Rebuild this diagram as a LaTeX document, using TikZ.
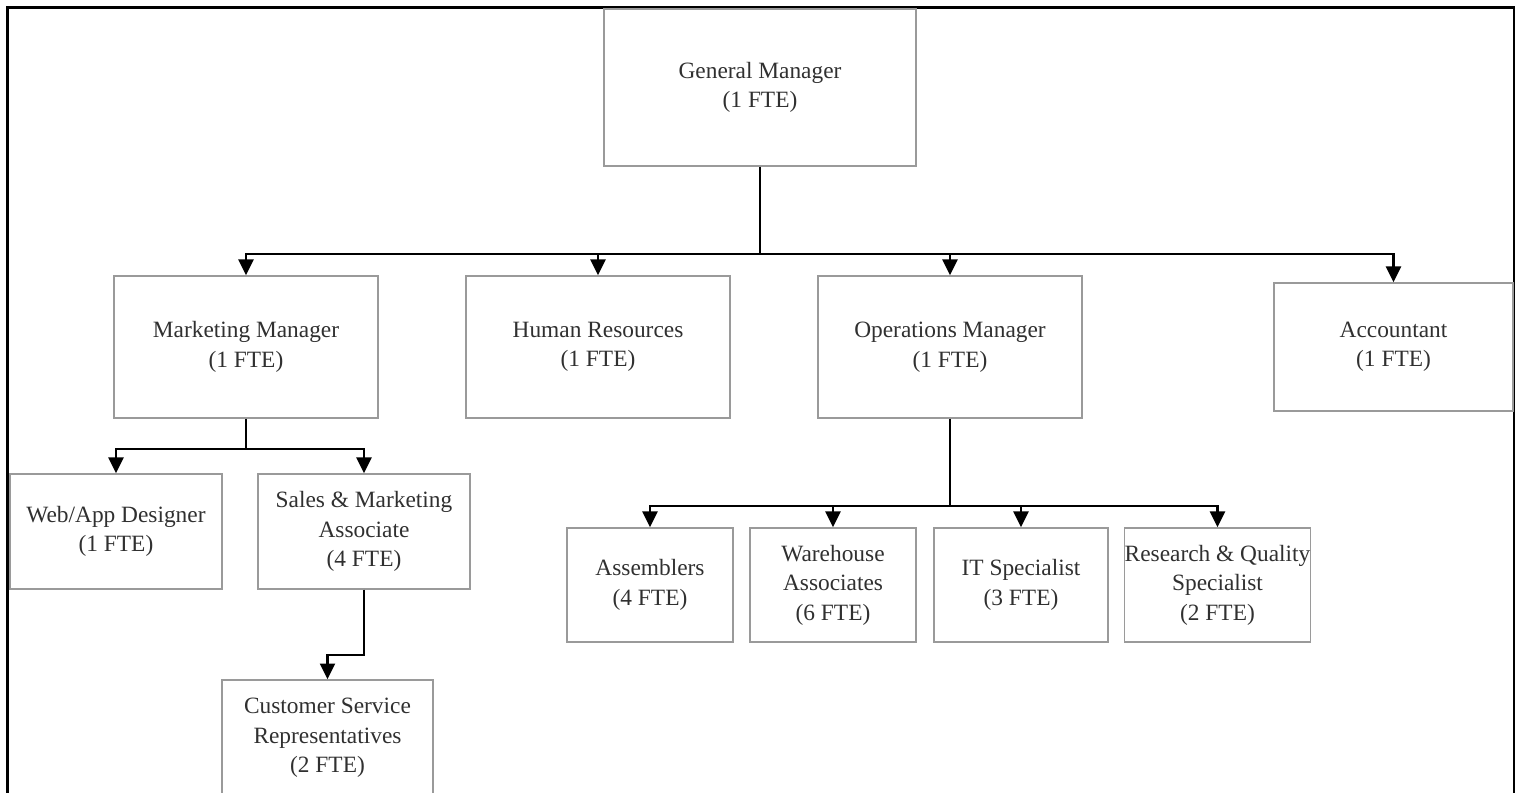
\documentclass[tikz,border=0pt]{standalone}
\usepackage{fontspec}
\setmainfont{Liberation Serif}
\usepackage{xcolor}
\usetikzlibrary{arrows.meta}
\definecolor{boxgray}{HTML}{9A9A9A}
\definecolor{textgray}{HTML}{303030}

\begin{document}
\begin{tikzpicture}[
  x=0.02cm, y=-0.02cm,
  >={Triangle[length=9pt,width=8.5pt]},
  every node/.style={font=\fontsize{13.3}{16.8}\selectfont, text=textgray},
  role/.style={draw=boxgray, line width=0.8pt, align=center, inner sep=0pt},
  link/.style={draw=black, line width=1.3pt},
  flow/.style={->, draw=black, line width=1.3pt},
  frame/.style={draw=black, line width=1.6pt}
]
\useasboundingbox (0,0) rectangle (1520,793);
\clip (0,0) rectangle (1520,793);

\draw[frame] (7.5,810) |- (1514,7.5) -- (1514,810);

\node[role, minimum width=6.24cm, minimum height=3.14cm] (gm) at (760,87.5) {General Manager\\(1 FTE)};
\node[role, minimum width=5.28cm, minimum height=2.84cm] (marketing) at (246,347) {Marketing Manager\\(1 FTE)};
\node[role, minimum width=5.28cm, minimum height=2.84cm] (hr) at (598,347) {Human Resources\\(1 FTE)};
\node[role, minimum width=5.28cm, minimum height=2.84cm] (ops) at (950,347) {Operations Manager\\(1 FTE)};
\node[role, minimum width=4.78cm, minimum height=2.56cm] (accountant) at (1393.5,347) {Accountant\\(1 FTE)};
\node[role, minimum width=4.24cm, minimum height=2.30cm] (webdesign) at (116,531.5) {Web/App Designer\\(1 FTE)};
\node[role, minimum width=4.24cm, minimum height=2.30cm] (sales) at (364,531.5) {Sales \& Marketing\\Associate\\(4 FTE)};
\node[role, minimum width=4.22cm, minimum height=2.32cm] (csr) at (327.5,738) {Customer Service\\Representatives\\(2 FTE)};
\node[role, minimum width=3.32cm, minimum height=2.28cm] (assemblers) at (650,585) {Assemblers\\(4 FTE)};
\node[role, minimum width=3.32cm, minimum height=2.28cm] (warehouse) at (833,585) {Warehouse\\Associates\\(6 FTE)};
\node[role, minimum width=3.48cm, minimum height=2.28cm] (itspec) at (1021,585) {IT Specialist\\(3 FTE)};
\node[role, minimum width=3.70cm, minimum height=2.28cm] (research) at (1217.5,585) {Research \& Quality\\Specialist\\(2 FTE)};

% bus points of the tree
\coordinate (gmbus) at (760,254);
\coordinate (mktbus) at (246,449);
\coordinate (opsbus) at (950,506);
\coordinate (salesbend) at (364,655);

\draw[link] (gm.south) -- (gmbus);
\draw[flow] (gmbus) -| (marketing.north);
\draw[flow] (gmbus) -| (hr.north);
\draw[flow] (gmbus) -| (ops.north);
\draw[flow] (gmbus) -| (accountant.north);

\draw[link] (marketing.south) -- (mktbus);
\draw[flow] (mktbus) -| (webdesign.north);
\draw[flow] (mktbus) -| (sales.north);
\draw[flow] (sales.south) -- (salesbend) -| (csr.north);

\draw[link] (ops.south) -- (opsbus);
\draw[flow] (opsbus) -| (assemblers.north);
\draw[flow] (opsbus) -| (warehouse.north);
\draw[flow] (opsbus) -| (itspec.north);
\draw[flow] (opsbus) -| (research.north);
\end{tikzpicture}
\end{document}
